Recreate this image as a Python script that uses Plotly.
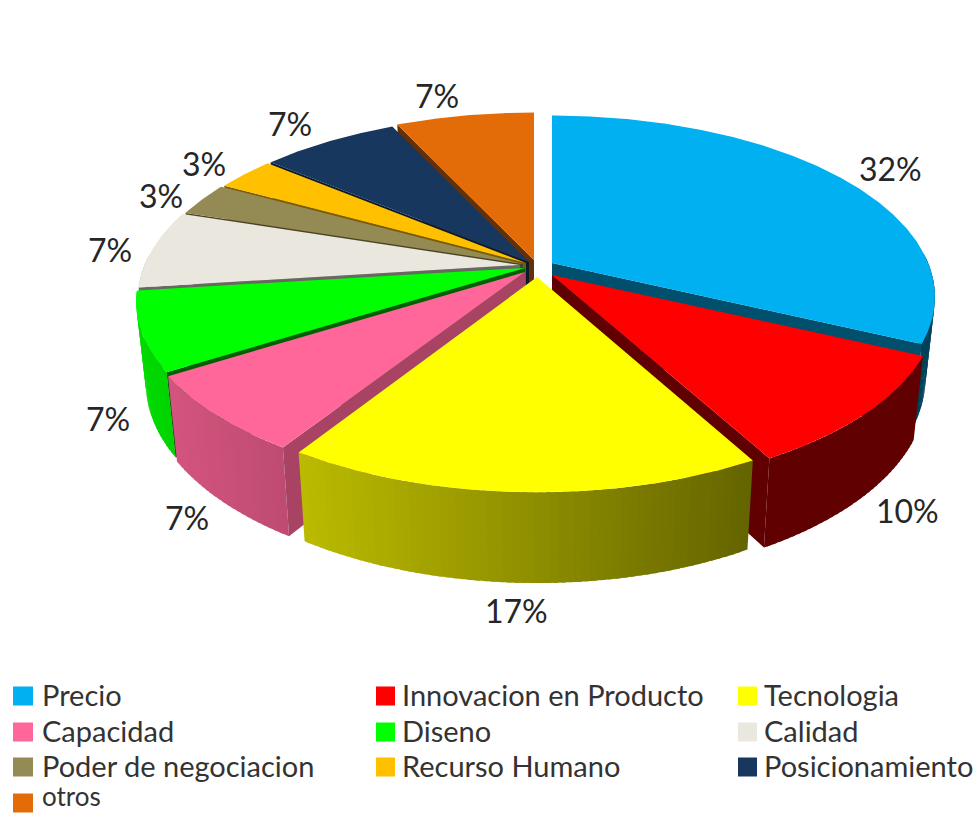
import math
import plotly.graph_objects as go

# ---- data ----
categories = ["Precio", "Innovacion en Producto", "Tecnologia", "Capacidad", "Diseno",
              "Calidad", "Poder de negociacion", "Recurso Humano", "Posicionamiento", "otros"]
values = [32, 10, 17, 7, 7, 7, 3, 3, 7, 7]
labels = ["32%", "10%", "17%", "7%", "7%", "7%", "3%", "3%", "7%", "7%"]
colors = ["#00B0F0", "#FF0000", "#FFFF00", "#FF6699", "#00FF00",
          "#E9E7DE", "#948A54", "#FFC000", "#17375E", "#E36C09"]

# ---- geometry of the projected pie (pixels) ----
RX, RY, K = 385.0, 175.0, 0.187
tips = [(552, 263), (552, 275), (537, 277), (525, 272), (525, 268),
        (520, 265), (523, 264), (526, 263), (529, 262), (534, 260)]
xscale = [.977, .98, .973, .988, .992, .975, .975, .975, .975, .975]
cut_light = [.45, .38, .40, .66, .38, .45, .50, .48, .50, .45]
draw_order = [9, 8, 7, 6, 5, 4, 3, 0, 1, 2]
label_pos = [(890, 168), (907, 510), (516, 610), (187, 517), (108, 418),
             (110, 249), (161, 195), (204, 163), (290, 123), (437, 95)]
DROP, BX, BY = 80.0, .975, 1.05


def top_pt(i, deg):
    a = math.radians(deg)
    u, v = math.sin(a), math.cos(a)
    w = 1 + K * v
    return tips[i][0] + RX * xscale[i] * u / w, tips[i][1] - RY * v / w


def bot_pt(i, deg):
    x, y = top_pt(i, deg)
    tx, ty = tips[i]
    return tx + (x - tx) * BX, ty + DROP + (y - ty) * BY


def shade(col, f):
    r, g, b = int(col[1:3], 16), int(col[3:5], 16), int(col[5:7], 16)
    return f"rgb({int(r*f)},{int(g*f)},{int(b*f)})"


def light_at(x):
    return max(.38, .83 - (x - 170) * .00075)


fig = go.Figure()


def poly(xs, ys, col):
    fig.add_trace(go.Scatter(x=xs + xs[:1], y=ys + ys[:1], mode="lines", fill="toself",
                             fillcolor=col, line=dict(color=col, width=0),
                             hoverinfo="skip", showlegend=False))


cum = [0]
for val in values:
    cum.append(cum[-1] + val)
total = cum[-1]

for i in draw_order:
    a0, a1 = cum[i] / total * 360, cum[i + 1] / total * 360
    mid = (a0 + a1) / 2
    col = colors[i]
    tx, ty = tips[i]
    # rim wall: overlapping strips give the gradient; the back of the rim is hidden anyway
    n = max(2, int((a1 - a0) / 1.0))
    for j in range(n):
        s0 = a0 + (a1 - a0) * j / n
        s1 = a0 + (a1 - a0) * (j + 1.6) / n
        s1 = min(s1, a1)
        if math.cos(math.radians((s0 + s1) / 2)) > 0.05:
            continue
        p0, p1, q1, q0 = top_pt(i, s0), top_pt(i, s1), bot_pt(i, s1), bot_pt(i, s0)
        poly([p0[0], p1[0], q1[0], q0[0]], [p0[1], p1[1], q1[1], q0[1]],
             shade(col, light_at((p0[0] + p1[0]) / 2)))
    # the one cut face that looks towards the viewer
    if not (a0 < 180 < a1):
        ang = a1 if mid < 180 else a0
        rt, rb = top_pt(i, ang), bot_pt(i, ang)
        poly([tx, rt[0], rb[0], tx], [ty, rt[1], rb[1], ty + DROP], shade(col, cut_light[i]))
    # top face
    m = max(4, int((a1 - a0) * 2))
    rim = [top_pt(i, a0 + (a1 - a0) * j / m) for j in range(m + 1)]
    poly([tx] + [p[0] for p in rim], [ty] + [p[1] for p in rim], col)

annotations = []
for lab, (lx, ly) in zip(labels, label_pos):
    annotations.append(dict(x=lx, y=ly, text=lab, showarrow=False, xanchor="center", yanchor="middle",
                            font=dict(family="Lato", size=32, color="#262626")))

# legend, three columns filled row by row
col_x = [13, 376, 738]
row_y = [696, 732, 767, 803]
text_x = [41, 401, 763]
shapes = []
for idx, (name, col) in enumerate(zip(categories, colors)):
    cx_ = col_x[idx % 3]
    ry_ = row_y[idx // 3]
    sw = 20 if idx % 3 == 0 else 19
    shapes.append(dict(type="rect", x0=cx_, x1=cx_ + sw, y0=ry_ - 9.5, y1=ry_ + 9.5, fillcolor=col,
                       line=dict(width=0), layer="above"))
    last_row = idx // 3 == len(row_y) - 1
    annotations.append(dict(x=text_x[idx % 3], y=813 if last_row else ry_ - 1.5, text=name, showarrow=False,
                            xanchor="left", yanchor="bottom" if last_row else "middle", borderpad=0,
                            font=dict(family="Lato", size=26 if last_row else 29, color="#333333")))

fig.update_layout(
    width=980, height=813, margin=dict(l=0, r=0, t=0, b=0),
    paper_bgcolor="white", plot_bgcolor="white", showlegend=False, hovermode=False,
    xaxis=dict(range=[0, 980], visible=False, fixedrange=True),
    yaxis=dict(range=[813, 0], visible=False, fixedrange=True),
    annotations=annotations, shapes=shapes,
)
fig.write_html("out.html", config=dict(displayModeBar=False),
               post_script="document.body.style.margin='0';")
